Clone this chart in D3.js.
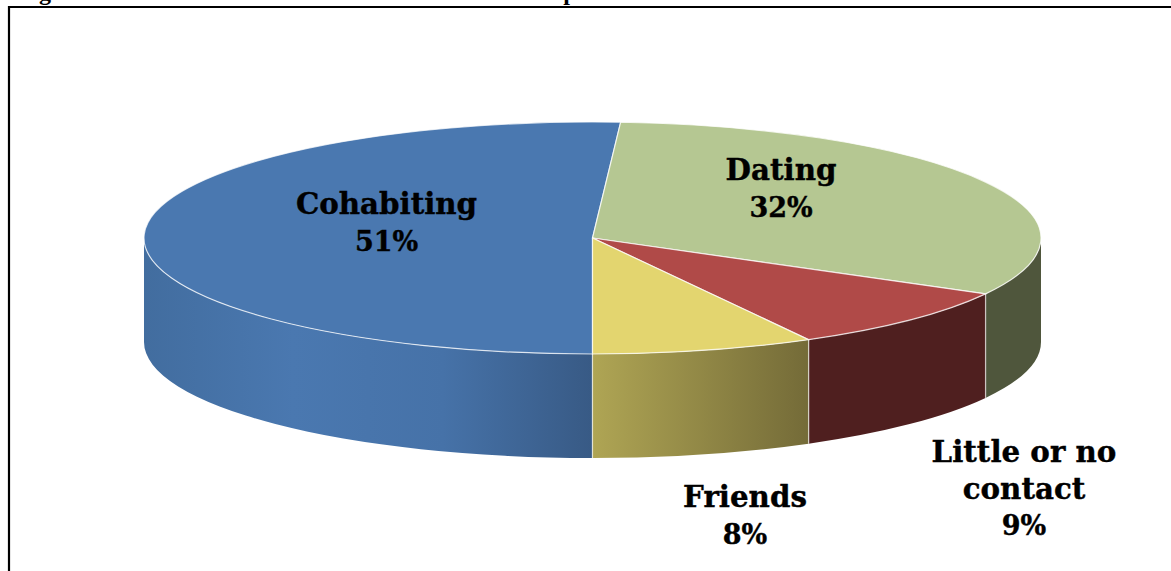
<!DOCTYPE html>
<html>
<head>
<meta charset="utf-8">
<style>
  html, body { margin: 0; padding: 0; background: #fff; overflow: hidden; }
  text { font-family: "DejaVu Serif", serif; font-weight: bold; fill: #000; }
  .label { stroke: #000; stroke-width: 0.4px; }
  .title { font-family: "Liberation Serif", serif; }
</style>
</head>
<body>
<div id="chart"></div>
<script src="https://cdn.jsdelivr.net/npm/d3@7"></script>
<script>
const categories = ["Cohabiting", "Dating", "Little or no contact", "Friends"];
const shares = [51, 32, 9, 8];
const topColors = ["#4a78b0", "#b5c792", "#b04a48", "#e3d56f"];
const sideStops = [
  ["#426d9f", "#4a78b0", "#4672a8", "#385a85"],
  ["#4f563c", "#4f563c"],
  ["#4f1f1f", "#4f1f1f"],
  ["#afa554", "#746b38"],
];
const labelLines = [["Cohabiting", "51%"], ["Dating", "32%"], ["Little or no", "contact", "9%"], ["Friends", "8%"]];
const labelSpots = [[386.5, 214], [781, 180], [1024, 462], [745, 507]];
// bits of the caption that stick out above the cropped frame
const captionBits = [["g", 45], ["p", 570]];

const width = 1171;
const height = 571;
const cx = 592.5;
const cy = 238;
const rx = 448.5;
const ry = 116;
const depth = 104;

const svg = d3
  .select("#chart")
  .append("svg")
  .attr("width", width)
  .attr("height", height);

svg
  .selectAll(".title")
  .data(captionBits)
  .enter()
  .append("text")
  .attr("class", "title")
  .attr("x", (d) => d[1])
  .attr("y", 0)
  .attr("text-anchor", "middle")
  .attr("font-size", 24)
  .text((d) => d[0]);

// frame around the chart, cut by the page edges
svg
  .append("path")
  .attr("d", `M9,${height} V7 H${width}`)
  .attr("fill", "none")
  .attr("stroke", "#000")
  .attr("stroke-width", 2.2);

// pie starts at the bottom and goes clockwise, like the original
const slices = d3
  .pie()
  .sort(null)
  .startAngle(Math.PI)
  .endAngle(3 * Math.PI)(shares);

const px = (a) => cx + rx * Math.sin(a);
const py = (a) => cy - ry * Math.cos(a);

// front wall: only the part of the rim that faces the viewer
const defs = svg.append("defs");
slices.forEach((d, i) => {
  let from = d.startAngle;
  let to = d.endAngle;
  // bring to the range 0..2pi so the front half is pi/2..3pi/2
  if (to > 2 * Math.PI && from >= 2 * Math.PI) {
    from -= 2 * Math.PI;
    to -= 2 * Math.PI;
  }
  from = Math.max(from, Math.PI / 2);
  to = Math.min(to, 1.5 * Math.PI);
  if (to <= from) return;

  const grad = defs
    .append("linearGradient")
    .attr("id", `side${i}`)
    .attr("gradientUnits", "userSpaceOnUse")
    .attr("x1", Math.min(px(from), px(to)))
    .attr("x2", Math.max(px(from), px(to)))
    .attr("y1", 0)
    .attr("y2", 0);
  // walls read left to right on the page
  sideStops[i].forEach((c, k) => {
    grad
      .append("stop")
      .attr("offset", k / (sideStops[i].length - 1))
      .attr("stop-color", c);
  });

  const wall =
    `M${px(from)},${py(from)} A${rx},${ry} 0 0 1 ${px(to)},${py(to)}` +
    ` V${py(to) + depth} A${rx},${ry} 0 0 0 ${px(from)},${py(from) + depth} Z`;
  svg
    .append("path")
    .attr("d", wall)
    .attr("fill", `url(#side${i})`);

  // light seams on the wall where slices meet
  [from, to]
    .filter((a) => a > Math.PI / 2 + 0.001 && a < 1.5 * Math.PI - 0.001)
    .forEach((a) => {
      svg
        .append("line")
        .attr("x1", px(a))
        .attr("x2", px(a))
        .attr("y1", py(a))
        .attr("y2", py(a) + depth)
        .attr("stroke", "#fff")
        .attr("stroke-opacity", 0.55)
        .attr("stroke-width", 1.2);
    });
});

// top face: a d3 arc squashed into an ellipse
const arc = d3.arc().innerRadius(0).outerRadius(rx);
svg
  .append("g")
  .attr("transform", `translate(${cx},${cy}) scale(1,${ry / rx})`)
  .selectAll("path")
  .data(slices)
  .enter()
  .append("path")
  .attr("d", arc)
  .attr("fill", (d, i) => topColors[i])
  .attr("stroke", "#fff")
  .attr("stroke-opacity", 0.75)
  .attr("stroke-width", 1.2)
  .attr("vector-effect", "non-scaling-stroke");

// labels, percent line a bit smaller since the font has wider digits
const labels = svg
  .selectAll(".label")
  .data(categories)
  .enter()
  .append("text")
  .attr("class", "label")
  .attr("text-anchor", "middle")
  .attr("font-size", 29.3);

labels.each(function (d, i) {
  d3.select(this)
    .selectAll("tspan")
    .data(labelLines[i])
    .enter()
    .append("tspan")
    .attr("x", labelSpots[i][0])
    .attr("y", (t, k) => labelSpots[i][1] + k * 36.7)
    .attr("font-size", (t) => (t.endsWith("%") ? 27 : null))
    .text((t) => t);
});
</script>
</body>
</html>
